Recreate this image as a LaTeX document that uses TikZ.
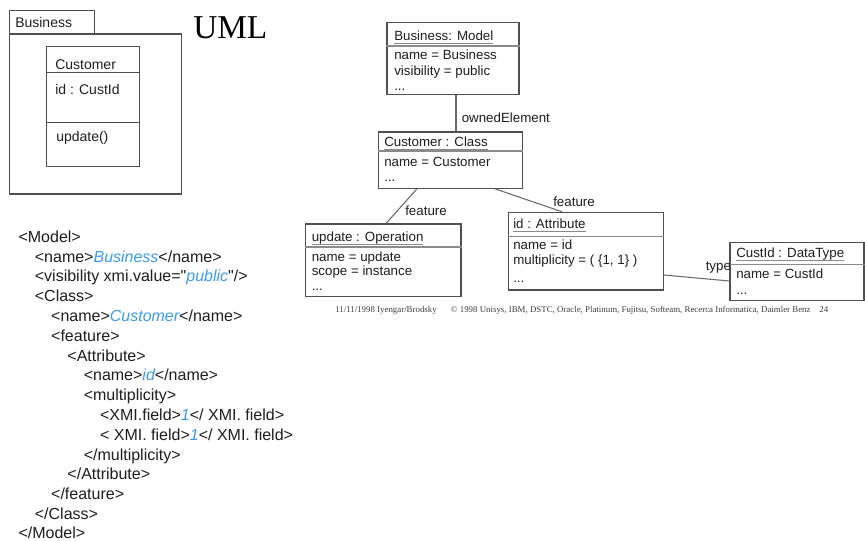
\documentclass[tikz,border=0pt]{standalone}
\usepackage{fontspec}
\setmainfont{Liberation Sans}
\newfontfamily\serifface{Liberation Serif}
% listing face without TeX quote ligatures, so " stays straight
\newfontfamily\xmlface{Liberation Sans}
\usetikzlibrary{fit}
\definecolor{ink}{HTML}{1E1E1E}
\definecolor{frame}{HTML}{505050}
\definecolor{rulegray}{HTML}{8A8A8A}
\definecolor{wire}{HTML}{6A6A6A}
\definecolor{xmlblue}{HTML}{3A9BF0}
\newcommand{\val}[1]{\textcolor{xmlblue}{\itshape #1}}
% object name, underlined with a thin grey rule
\newcommand{\objname}[1]{\setbox0\hbox{#1}\rlap{\textcolor{rulegray}{\rule[-2.4pt]{\wd0}{0.7pt}}}\box0}
\begin{document}
\begin{tikzpicture}[x=0.75pt,y=-0.75pt,
  box/.style={draw=frame, line width=0.8pt, inner sep=0pt},
  divider/.style={draw=rulegray, line width=1pt},
  wireline/.style={draw=wire, line width=0.8pt},
  lbl/.style={anchor=base west, inner sep=0pt, text=ink, font=\fontsize{10pt}{12pt}\selectfont},
  umltext/.style={anchor=base west, inner sep=0pt, text=ink, font=\fontsize{10.5pt}{12pt}\selectfont},
  xml/.style={anchor=base west, inner sep=0pt, text=ink, font=\xmlface\fontsize{12pt}{14pt}\selectfont}
]
\useasboundingbox (0,0) rectangle (865,541);

% ---------- UML package with the Customer class ----------
\node[box, fit={(9.3,10.7) (94.5,34)}] (tab) {};
\node[box, fit={(9.3,34) (181.5,194)}] (pkg) {};
\node[umltext] (tabtxt) at (15,27.5) {Business};
\node[box, fit={(46.7,46.7) (139.3,166.7)}] (cust) {};
\draw[divider, draw=frame] (cust.west |- 0,72.3) -- (cust.east |- 0,72.3);
\draw[divider, draw=frame] (cust.west |- 0,122.3) -- (cust.east |- 0,122.3);
\node[umltext] (custname) at (55,69.5) {Customer};
\node[umltext] (custattr) at (55,94.5) {id : CustId};
\node[umltext] (custop) at (56,141.5) {update()};

\node[anchor=base west, inner sep=0pt, text=black, font=\serifface\fontsize{25pt}{28pt}\selectfont] (umltitle) at (193,38.3) {UML};

% ---------- Object diagram ----------
\node[box, fit={(387,22.5) (519,94.5)}] (model) {};
\draw[divider] (model.west |- 0,46) -- (model.east |- 0,46);
\node[lbl] at (394,40.5) {\objname{Business: Model}};
\node[lbl] at (394,60) {name = Business};
\node[lbl] at (394,75.5) {visibility = public};
\node[lbl] at (394,91) {...};

\node[box, fit={(378.3,132) (522.7,188.3)}] (cls) {};
\draw[divider] (cls.west |- 0,151) -- (cls.east |- 0,151);
\node[lbl] at (384,147) {\objname{Customer : Class}};
\node[lbl] at (384,166.5) {name = Customer};
\node[lbl] at (384,182) {...};

\node[box, fit={(305.7,224) (461,296.7)}] (op) {};
\draw[divider] (op.west |- 0,247) -- (op.east |- 0,247);
\node[lbl] at (311.5,241.5) {\objname{update : Operation}};
\node[lbl] at (311.5,261.5) {name = update};
\node[lbl] at (311.5,276) {scope = instance};
\node[lbl] at (311.5,291) {...};

\node[box, fit={(508.3,212.3) (663.3,290)}] (attr) {};
\draw[divider] (attr.west |- 0,236.7) -- (attr.east |- 0,236.7);
\node[lbl] at (513,229) {\objname{id : Attribute}};
\node[lbl] at (513,249.5) {name = id};
\node[lbl] at (513,265) {multiplicity = ( \{1, 1\} )};
\node[lbl] at (513,283) {...};

\node[box, fit={(730,242.5) (864,300.5)}] (dt) {};
\draw[divider] (dt.west |- 0,264.5) -- (dt.east |- 0,264.5);
\node[lbl] at (736,258) {\objname{CustId : DataType}};
\node[lbl] at (736,279) {name = CustId};
\node[lbl] at (736,295) {...};

% links
\draw[wireline] (model.south -| 456,0) -- (cls.north -| 456,0);
\draw[wireline] (cls.south -| 417,0) -- (op.north -| 386,0);
\draw[wireline] (cls.south -| 495,0) -- (attr.north -| 562,0);
\draw[wireline] (attr.east |- 0,275) -- (dt.west |- 0,281);

\node[lbl] (lnk1) at (461.5,123) {ownedElement};
\node[lbl] (lnk2) at (405,216) {feature};
\node[lbl] (lnk3) at (553,207) {feature};
\node[lbl] (lnk4) at (705.5,270.5) {type};

% footer line
\node[anchor=base west, inner sep=0pt, text=ink!85] (footer) at (335,313)
  {\resizebox{369.75pt}{!}{\serifface\fontsize{7pt}{8pt}\selectfont 11/11/1998 Iyengar/Brodsky\hspace{1.6em}© 1998 Unisys, IBM, DSTC, Oracle, Platinum, Fujitsu, Softeam, Recerca Informatica, Daimler Benz\hspace{1em}24}};

% ---------- XMI listing ----------
\node[xml] (x0)  at (18.3, 242.4) {<Model>};
\node[xml] (x1)  at (34.6, 262.2) {<name>\val{Business}</name>};
\node[xml] (x2)  at (34.6, 282.0) {<visibility xmi.value="\val{public}"/>};
\node[xml] (x3)  at (34.6, 301.8) {<Class>};
\node[xml] (x4)  at (50.9, 321.6) {<name>\val{Customer}</name>};
\node[xml] (x5)  at (50.9, 341.4) {<feature>};
\node[xml] (x6)  at (67.2, 361.2) {<Attribute>};
\node[xml] (x7)  at (83.5, 381.0) {<name>\val{id}</name>};
\node[xml] (x8)  at (83.5, 400.8) {<multiplicity>};
\node[xml] (x9)  at (99.8, 420.6) {<XMI.field>\val{1}</ XMI. field>};
\node[xml] (x10) at (99.8, 440.4) {< XMI. field>\val{1}</ XMI. field>};
\node[xml] (x11) at (83.5, 460.2) {</multiplicity>};
\node[xml] (x12) at (67.2, 480.0) {</Attribute>};
\node[xml] (x13) at (50.9, 499.8) {</feature>};
\node[xml] (x14) at (34.6, 519.6) {</Class>};
\node[xml] (x15) at (18.3, 539.0) {</Model>};
\end{tikzpicture}
\end{document}
